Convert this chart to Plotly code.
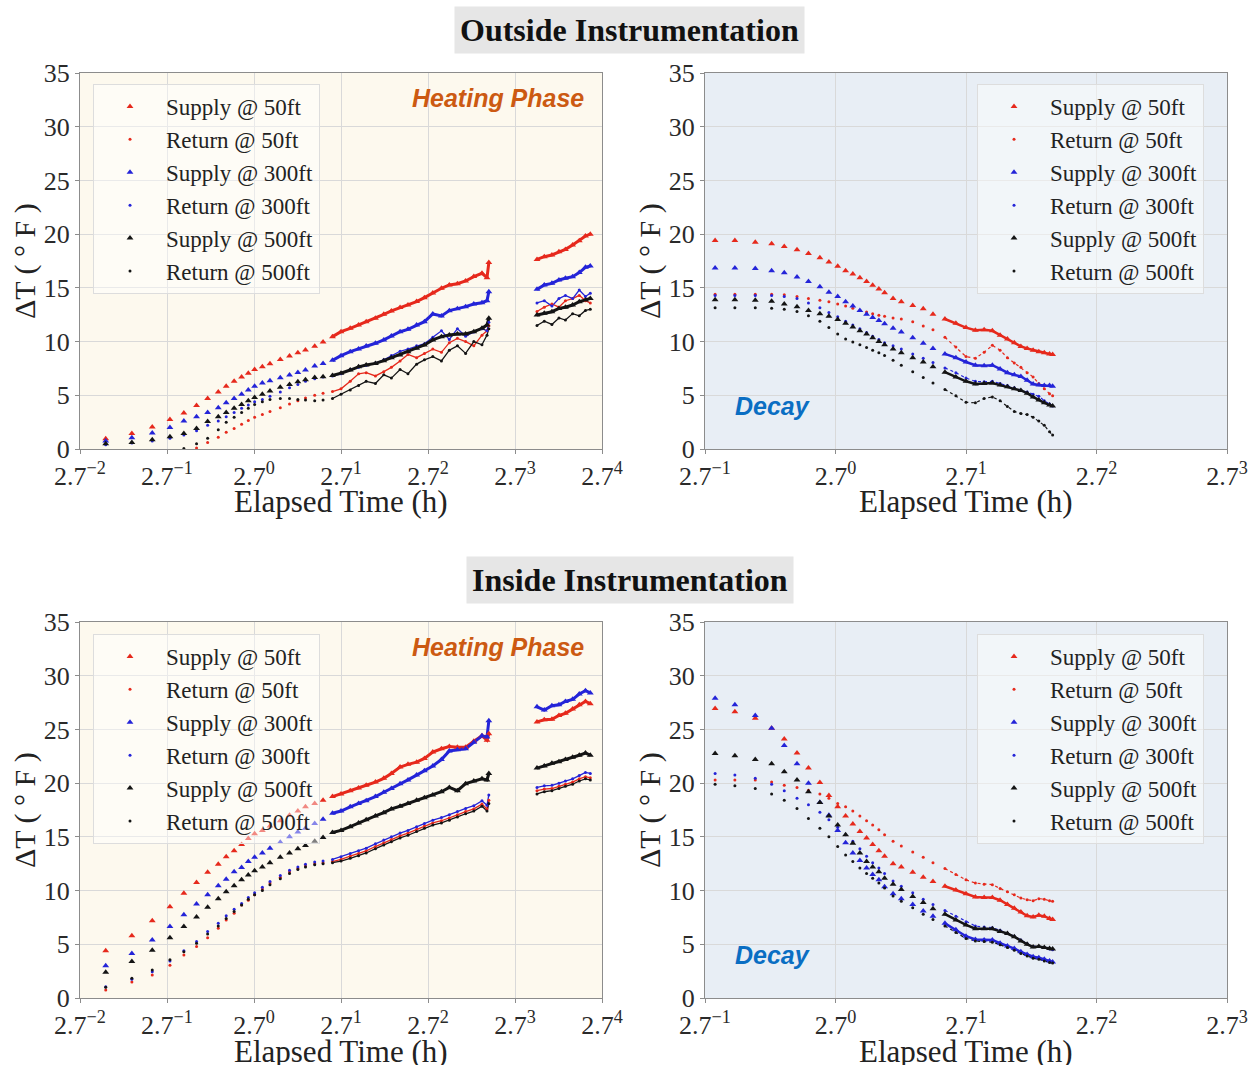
import math
import plotly.graph_objects as go

W, H = 1256, 1065

# ---------------- data ----------------
series_names = ["Supply @ 50ft", "Return @ 50ft", "Supply @ 300ft",
                "Return @ 300ft", "Supply @ 500ft", "Return @ 500ft"]

# elapsed time (h) of the heating-phase samples
t_heat = [0.184, 0.248, 0.313, 0.383, 0.449, 0.519, 0.589, 0.665, 0.728, 0.797, 0.868, 0.937, 1.007,
          1.1, 1.2, 1.35, 1.5, 1.65, 1.8, 2.0, 2.2, 2.45, 2.7,
          3.0, 3.3, 3.6, 4.0, 4.4, 4.8, 5.3, 5.8, 6.4, 7.0,
          7.7, 8.5, 9.3, 10.2, 11.2, 12.3, 13.5, 14.3, 14.6,
          25.3, 27.5, 30.0, 32.5, 35.0, 38.0, 41.0, 44.0, 46.5]

# elapsed time (h) of the decay samples
t_decay = [0.400, 0.465, 0.543, 0.615, 0.677, 0.746, 0.814, 0.888, 0.951, 1.017, 1.080, 1.141,
           1.204, 1.267, 1.327, 1.391, 1.453,
           1.55, 1.65, 1.8, 1.95, 2.1, 2.3, 2.5, 2.7, 2.9, 3.1, 3.3, 3.5, 3.7, 3.9, 4.1,
           4.3, 4.5, 4.7, 4.9, 5.1, 5.22]

# ---- Outside instrumentation, heating phase (dT, F)
out_heat_s50 = [0.95, 1.45, 2.05, 2.75, 3.35, 4.05, 4.7, 5.3, 5.85, 6.3, 6.7, 7.05, 7.4,
                7.66, 7.94, 8.32, 8.66, 8.97, 9.22, 9.56, 9.96, 10.46, 10.92,
                11.23, 11.54, 11.85, 12.16, 12.54, 12.85, 13.16, 13.40, 13.72, 14.09,
                14.52, 14.96, 15.27, 15.39, 15.64, 16.05, 16.36, 15.95, 17.35,
                17.65, 17.9, 18.06, 18.37, 18.58, 18.99, 19.39, 19.83, 20.0]
out_heat_r50 = [None, None, None, None, None, 0.1, 0.6, 1.1, 1.55, 1.9, 2.3, 2.65, 2.95,
                3.2, 3.5, 3.85, 4.2, 4.5, 4.75, 5.0, 5.2, 5.35, 5.6,
                6.3, 7.0, 7.1, 6.8, 7.2, 7.6, 8.2, 8.8, 8.5, 8.9,
                9.3, 9.0, 9.9, 10.3, 10.0, 9.6, 10.6, 11.0, 11.5,
                12.8, 13.2, 13.5, 13.2, 13.8, 14.0, 14.3, 13.8, 13.6]
out_heat_s300 = [0.75, 1.05, 1.5, 2.0, 2.6, 3.0, 3.4, 3.85, 4.3, 4.7, 5.1, 5.5, 5.85,
                 6.14, 6.36, 6.64, 6.89, 7.11, 7.35, 7.73, 7.97, 8.25, 8.69,
                 9.06, 9.31, 9.59, 9.84, 10.15, 10.52, 10.92, 11.14, 11.54, 11.85,
                 12.57, 12.38, 12.88, 13.06, 13.25, 13.50, 13.62, 13.81, 14.64,
                 14.86, 15.27, 15.42, 15.73, 15.89, 16.04, 16.42, 16.91, 17.03]
out_heat_r300 = [0.4, 0.55, 0.75, 1.0, 1.3, 1.7, 2.2, 2.6, 3.0, 3.4, 3.8, 4.1, 4.4,
                 4.6, 4.9, 5.3, 5.7, 6.0, 6.3, 6.55, 6.7, 6.8, 7.0,
                 7.4, 7.6, 7.8, 8.0, 8.3, 8.7, 9.1, 9.3, 9.6, 9.8,
                 10.4, 11.0, 10.2, 11.2, 10.5, 10.9, 11.2, 11.0, 11.8,
                 13.6, 13.8, 13.3, 14.0, 14.3, 14.0, 14.8, 14.2, 14.5]
out_heat_s500 = [0.5, 0.6, 0.85, 1.15, 1.45, 1.9, 2.55, 3.0, 3.4, 3.8, 4.15, 4.5, 4.8,
                 5.1, 5.4, 5.75, 6.0, 6.25, 6.45, 6.65, 6.73, 6.85, 7.05,
                 7.35, 7.65, 7.82, 7.97, 8.22, 8.50, 8.75, 9.06, 9.37, 9.68,
                 10.15, 10.46, 10.61, 10.71, 10.71, 10.92, 11.23, 11.54, 12.16,
                 12.47, 12.63, 12.78, 13.09, 13.19, 13.40, 13.71, 13.87, 14.02]
out_heat_r500 = [None, None, None, None, 0.05, 0.5, 1.0, 1.8, 2.5, 2.95, 3.4, 3.8, 4.15,
                 4.4, 4.6, 4.7, 4.7, 4.6, 4.55, 4.5, 4.55, 4.7, 5.1,
                 5.5, 5.9, 6.3, 6.1, 6.9, 6.6, 7.4, 7.0, 7.9, 8.3,
                 8.6, 8.2, 9.2, 9.6, 8.9, 10.0, 9.7, 10.6, 11.2,
                 11.5, 11.9, 11.6, 12.2, 12.0, 12.6, 12.4, 12.9, 13.0]

# ---- Outside instrumentation, decay
out_decay_s50 = [19.4, 19.4, 19.25, 19.1, 18.85, 18.55, 18.2, 17.8, 17.4, 17.0, 16.6, 16.3,
                 15.95, 15.6, 15.25, 14.9, 14.55,
                 14.0, 13.7, 13.35, 13.05, 12.55, 12.1, 11.7, 11.3, 11.05, 11.1, 11.0, 10.6,
                 10.25, 9.9, 9.55, 9.35, 9.2, 9.05, 8.95, 8.85, 8.8]
out_decay_r50 = [14.4, 14.4, 14.4, 14.4, 14.35, 14.2, 14.0, 13.85, 13.7, 13.5, 13.3, 13.1,
                 12.9, 12.75, 12.6, 12.45, 12.35,
                 12.2, 12.1, 11.85, 11.45, 11.1, 10.4, 9.5, 8.6, 8.45, 9.0, 9.65, 9.2,
                 8.5, 8.0, 7.6, 7.1, 6.7, 6.1, 5.6, 5.15, 4.95]
out_decay_s300 = [16.85, 16.85, 16.8, 16.6, 16.4, 16.0, 15.6, 15.1, 14.6, 14.2, 13.7, 13.3,
                  12.9, 12.55, 12.25, 11.95, 11.65,
                  11.25, 10.9, 10.35, 9.85, 9.35, 8.85, 8.5, 8.1, 7.8, 7.75, 7.8, 7.45,
                  7.1, 6.9, 6.75, 6.4, 6.05, 5.95, 5.9, 5.9, 5.85]
out_decay_r300 = [14.3, 14.3, 14.3, 14.3, 14.2, 14.0, 13.6, 13.15, 12.7, 12.3, 11.9, 11.55,
                  11.2, 10.85, 10.5, 10.2, 9.9,
                  9.6, 9.3, 8.85, 8.45, 8.05, 7.55, 7.1, 6.6, 6.3, 6.25, 6.3, 6.1,
                  5.9, 5.7, 5.5, 5.3, 5.1, 4.9, 4.5, 4.2, 4.0]
out_decay_s500 = [13.9, 13.9, 13.85, 13.75, 13.5, 13.25, 12.9, 12.6, 12.35, 12.05, 11.7, 11.35,
                  11.0, 10.7, 10.35, 10.0, 9.7,
                  9.3, 8.95, 8.5, 8.1, 7.65, 7.15, 6.7, 6.3, 6.05, 6.1, 6.15, 5.95,
                  5.8, 5.6, 5.45, 5.2, 4.85, 4.55, 4.3, 4.1, 4.0]
out_decay_r500 = [13.15, 13.15, 13.15, 13.1, 13.0, 12.8, 12.4, 11.9, 11.3, 10.7, 10.25, 9.95,
                  9.7, 9.45, 9.2, 8.95, 8.7,
                  8.25, 7.8, 7.2, 6.65, 6.15, 5.55, 4.95, 4.35, 4.3, 4.7, 4.85, 4.5,
                  3.95, 3.5, 3.3, 3.2, 2.95, 2.6, 2.2, 1.6, 1.3]

# ---- Inside instrumentation, heating phase
in_heat_s50 = [4.4, 5.8, 7.2, 8.5, 9.75, 10.75, 11.7, 12.45, 13.15, 13.7, 14.3, 14.85, 15.3,
               15.6, 16.0, 16.5, 17.0, 17.4, 17.8, 18.1, 18.4, 18.75, 19.0,
               19.3, 19.55, 19.8, 20.1, 20.45, 20.9, 21.5, 21.75, 21.95, 22.3,
               22.9, 23.2, 23.4, 23.35, 23.35, 23.9, 24.4, 24.0, 24.6,
               25.7, 25.9, 25.95, 26.3, 26.5, 26.9, 27.3, 27.6, 27.4]
in_heat_r50 = [0.75, 1.5, 2.15, 3.05, 4.0, 4.8, 5.6, 6.5, 7.25, 7.9, 8.65, 9.1, 9.6,
               10.15, 10.7, 11.25, 11.75, 12.05, 12.3, 12.5, 12.6, 12.7, 12.9,
               13.2, 13.45, 13.7, 14.1, 14.45, 14.75, 15.1, 15.35, 15.7, 16.0,
               16.3, 16.5, 16.75, 17.05, 17.35, 17.6, 18.05, 17.6, 18.4,
               19.3, 19.45, 19.5, 19.7, 19.9, 20.1, 20.4, 20.6, 20.5]
in_heat_s300 = [3.0, 4.15, 5.4, 6.65, 7.75, 8.75, 9.6, 10.45, 11.05, 11.75, 12.15, 12.7, 13.1,
                13.5, 13.95, 14.5, 15.0, 15.45, 15.8, 16.25, 16.65, 17.2, 17.4,
                17.8, 18.1, 18.35, 18.75, 19.15, 19.5, 19.95, 20.3, 20.75, 21.15,
                21.6, 22.2, 23.0, 23.1, 23.2, 23.8, 24.4, 24.3, 25.8,
                27.1, 26.8, 27.2, 27.3, 27.6, 27.8, 28.3, 28.6, 28.4]
in_heat_r300 = [1.05, 1.75, 2.45, 3.45, 4.4, 5.25, 6.2, 6.95, 7.65, 8.25, 8.8, 9.35, 9.8,
                10.3, 10.85, 11.4, 11.9, 12.2, 12.45, 12.65, 12.75, 12.9, 13.15,
                13.45, 13.7, 13.95, 14.35, 14.7, 15.0, 15.35, 15.6, 15.95, 16.25,
                16.55, 16.8, 17.05, 17.35, 17.65, 17.9, 18.35, 17.95, 18.9,
                19.6, 19.75, 19.8, 20.0, 20.2, 20.4, 20.7, 21.0, 20.9]
in_heat_s500 = [2.4, 3.4, 4.45, 5.6, 6.65, 7.55, 8.45, 9.25, 9.9, 10.45, 11.0, 11.45, 11.85,
                12.2, 12.6, 13.1, 13.5, 13.9, 14.2, 14.6, 14.95, 15.4, 15.6,
                15.95, 16.3, 16.6, 16.95, 17.25, 17.6, 17.85, 18.1, 18.4, 18.65,
                18.9, 19.2, 19.6, 19.3, 19.95, 20.2, 20.4, 20.3, 20.9,
                21.4, 21.6, 21.85, 22.0, 22.2, 22.4, 22.6, 22.8, 22.6]
in_heat_r500 = [1.0, 1.85, 2.6, 3.55, 4.3, 5.1, 5.95, 6.7, 7.4, 8.05, 8.65, 9.2, 9.6,
                10.0, 10.55, 11.1, 11.6, 11.95, 12.2, 12.4, 12.5, 12.6, 12.75,
                13.0, 13.25, 13.5, 13.9, 14.25, 14.55, 14.9, 15.15, 15.5, 15.8,
                16.1, 16.3, 16.55, 16.85, 17.15, 17.4, 17.85, 17.4, 18.1,
                19.0, 19.2, 19.3, 19.5, 19.7, 19.9, 20.2, 20.4, 20.3]

# ---- Inside instrumentation, decay
in_decay_s50 = [26.95, 26.65, 26.05, 25.1, 24.1, 22.8, 21.4, 20.05, 18.85, 17.8, 16.95, 16.2,
                15.5, 14.9, 14.3, 13.7, 13.2,
                12.5, 12.2, 11.7, 11.25, 10.85, 10.4, 10.05, 9.7, 9.4, 9.35, 9.35, 9.1,
                8.7, 8.35, 8.0, 7.65, 7.55, 7.7, 7.6, 7.4, 7.3]
in_decay_r50 = [20.3, 20.3, 20.3, 20.1, 19.8, 19.6, 19.35, 19.0, 18.6, 18.1, 17.8, 17.4,
                16.95, 16.5, 16.1, 15.65, 15.2,
                14.6, 14.15, 13.6, 13.1, 12.6, 12.05, 11.5, 11.0, 10.7, 10.6, 10.55, 10.2,
                9.9, 9.6, 9.3, 9.15, 9.05, 9.25, 9.2, 9.05, 9.0]
in_decay_s300 = [27.9, 27.3, 26.3, 25.1, 23.5, 21.8, 20.0, 18.2, 17.0, 15.6, 14.45, 13.5,
                 12.8, 12.1, 11.5, 11.0, 10.35,
                 9.7, 9.25, 8.7, 8.1, 7.6, 6.95, 6.35, 5.75, 5.45, 5.4, 5.4, 5.1,
                 4.85, 4.6, 4.3, 4.05, 3.85, 3.75, 3.6, 3.45, 3.35]
in_decay_r300 = [20.9, 20.75, 20.45, 19.9, 19.3, 18.6, 18.0, 17.3, 16.6, 15.9, 15.2, 14.6,
                 13.9, 13.2, 12.6, 12.1, 11.6,
                 10.9, 10.4, 9.8, 9.2, 8.7, 8.15, 7.6, 7.1, 6.7, 6.6, 6.55, 6.3,
                 6.0, 5.75, 5.4, 5.05, 4.8, 4.8, 4.7, 4.55, 4.5]
in_decay_s500 = [22.75, 22.55, 22.2, 21.8, 21.05, 20.3, 19.2, 18.2, 16.95, 16.1, 15.2, 14.4,
                 13.5, 12.7, 12.2, 11.75, 11.15,
                 10.6, 10.1, 9.45, 8.9, 8.3, 7.8, 7.25, 6.8, 6.45, 6.45, 6.45, 6.2,
                 6.0, 5.7, 5.3, 5.0, 4.75, 4.8, 4.7, 4.6, 4.55]
in_decay_r500 = [19.9, 19.75, 19.5, 19.0, 18.4, 17.65, 16.7, 15.8, 15.0, 14.1, 13.3, 12.7,
                 12.1, 11.6, 11.15, 10.7, 10.25,
                 9.5, 9.0, 8.4, 7.8, 7.3, 6.7, 6.1, 5.55, 5.3, 5.25, 5.2, 4.95,
                 4.7, 4.45, 4.15, 3.9, 3.7, 3.6, 3.45, 3.3, 3.25]

y_ticks = [0, 5, 10, 15, 20, 25, 30, 35]

# ---------------- styling ----------------
RED, BLUE, BLACK = "#e6291c", "#2424d8", "#141414"
colors = [RED, RED, BLUE, BLUE, BLACK, BLACK]
symbols = ["triangle-up", "circle", "triangle-up", "circle", "triangle-up", "circle"]
msizes = [6, 3, 6, 3, 6, 3]
SERIF = "Liberation Serif, Times New Roman, serif"
SANS = "Liberation Sans, Arial, sans-serif"
CREAM = "#fdf9ee"
BLUEBG = "#e8eef5"
GRID = "#d9d9d9"
SPINE = "#8c8c8c"

panels = [
    dict(ax="", t=t_heat, ys=[out_heat_s50, out_heat_r50, out_heat_s300, out_heat_r300, out_heat_s500, out_heat_r500],
         px=(80, 602), py=(73, 449), e=(-2, 4), bg=CREAM, legend="legend", lpos=(93, 84), line_from=2.45, decay=False),
    dict(ax="2", t=t_decay, ys=[out_decay_s50, out_decay_r50, out_decay_s300, out_decay_r300, out_decay_s500, out_decay_r500],
         px=(705, 1227), py=(73, 449), e=(-1, 3), bg=BLUEBG, legend="legend2", lpos=(977, 84), line_from=2.3, decay=True),
    dict(ax="3", t=t_heat, ys=[in_heat_s50, in_heat_r50, in_heat_s300, in_heat_r300, in_heat_s500, in_heat_r500],
         px=(80, 602), py=(622, 998), e=(-2, 4), bg=CREAM, legend="legend3", lpos=(93, 634), line_from=2.45, decay=False),
    dict(ax="4", t=t_decay, ys=[in_decay_s50, in_decay_r50, in_decay_s300, in_decay_r300, in_decay_s500, in_decay_r500],
         px=(705, 1227), py=(622, 998), e=(-1, 3), bg=BLUEBG, legend="legend4", lpos=(977, 634), line_from=2.3, decay=True),
]

fig = go.Figure()
layout = dict(width=W, height=H, margin=dict(l=0, r=0, t=0, b=0, pad=0, autoexpand=False),
              paper_bgcolor="white", plot_bgcolor="rgba(0,0,0,0)", showlegend=True)
shapes, annotations = [], []
lb = math.log10(2.7)


def segments(t, y, t_from):
    segs, cur = [], []
    for ti, yi in zip(t, y):
        if ti < t_from:
            continue
        if cur and ti / cur[-1][0] > 1.5:
            segs.append(cur)
            cur = []
        cur.append((ti, yi))
    if cur:
        segs.append(cur)
    xs, ys = [], []
    for s in segs:
        xs += [q[0] for q in s] + [None]
        ys += [q[1] for q in s] + [None]
    return xs, ys


for p in panels:
    xa = "x" + p["ax"]
    ya = "y" + p["ax"]
    e0, e1 = p["e"]
    layout["xaxis" + p["ax"]] = dict(
        domain=[p["px"][0] / W, p["px"][1] / W], anchor=ya, type="log", automargin=False,
        range=[e0 * lb, e1 * lb],
        tickvals=[2.7 ** k for k in range(e0, e1 + 1)],
        ticktext=["2.7<sup>%s</sup>" % str(k).replace("-", "\u2212") for k in range(e0, e1 + 1)],
        showgrid=True, gridcolor=GRID, gridwidth=1, showline=True, mirror=True,
        linecolor=SPINE, linewidth=1, ticks="outside", ticklen=4, tickcolor=SPINE,
        tickfont=dict(family=SERIF, size=26, color="#2a2a2a"), zeroline=False)
    layout["yaxis" + p["ax"]] = dict(
        domain=[1 - p["py"][1] / H, 1 - p["py"][0] / H], anchor=xa, automargin=False,
        range=[0, 35], tickvals=y_ticks, ticktext=[str(v) for v in y_ticks],
        showgrid=True, gridcolor=GRID, gridwidth=1, showline=True, mirror=True,
        linecolor=SPINE, linewidth=1, ticks="outside", ticklen=4, tickcolor=SPINE,
        tickfont=dict(family=SERIF, size=26, color="#2a2a2a"), zeroline=False)
    shapes.append(dict(type="rect", xref=xa + " domain", yref=ya + " domain", x0=0, x1=1, y0=0, y1=1,
                       fillcolor=p["bg"], line=dict(width=0), layer="below"))
    layout[p["legend"]] = dict(
        x=p["lpos"][0] / W, y=1 - p["lpos"][1] / H, xanchor="left", yanchor="top",
        bgcolor="rgba(255,255,255,0.45)", bordercolor="#dddddd", borderwidth=1,
        font=dict(family=SERIF, size=23, color="#222222"), itemwidth=62,
        tracegroupgap=4, traceorder="normal")
    # dense tail drawn as a band through the read points
    for i, y in enumerate(p["ys"]):
        xs, ys = segments(p["t"], y, p["line_from"])
        supply = (i % 2 == 0)
        if p["decay"]:
            lw = 2.5 if supply else 1.2
        else:
            lw = 3 if supply else 1.3
        fig.add_trace(go.Scatter(
            x=xs, y=ys, xaxis=xa, yaxis=ya, mode="lines", showlegend=False, hoverinfo="skip",
            line=dict(color=colors[i], width=lw,
                      dash="solid" if (supply or not p["decay"]) else "dot"),
            legend=p["legend"]))
    for i, y in enumerate(p["ys"]):
        fig.add_trace(go.Scatter(
            x=p["t"], y=y, xaxis=xa, yaxis=ya, mode="markers", name=series_names[i],
            marker=dict(symbol=symbols[i], size=msizes[i], color=colors[i], line=dict(width=0)),
            legend=p["legend"], legendgroup=p["legend"] + str(i)))
    # axis titles
    xc = (p["px"][0] + p["px"][1]) / 2
    annotations.append(dict(text="Elapsed Time (h)", x=xc / W, y=1 - (p["py"][1] + 53) / H,
                            xref="paper", yref="paper", showarrow=False, xanchor="center", yanchor="middle",
                            font=dict(family=SERIF, size=31, color="#222222")))
    annotations.append(dict(text="\u0394T ( \u00b0 F )", x=(p["px"][0] - 55) / W,
                            y=1 - ((p["py"][0] + p["py"][1]) / 2) / H,
                            xref="paper", yref="paper", showarrow=False, textangle=-90,
                            xanchor="center", yanchor="middle",
                            font=dict(family=SERIF, size=30, color="#222222")))
    if p["decay"]:
        annotations.append(dict(text="<b><i>Decay</i></b>", x=772 / W, y=1 - (p["py"][0] + 333) / H,
                                xref="paper", yref="paper", showarrow=False, xanchor="center", yanchor="middle",
                                font=dict(family=SANS, size=25, color="#0a6ec3")))
    else:
        annotations.append(dict(text="<b><i>Heating Phase</i></b>", x=498 / W, y=1 - (p["py"][0] + 25) / H,
                                xref="paper", yref="paper", showarrow=False, xanchor="center", yanchor="middle",
                                font=dict(family=SANS, size=25, color="#cc5a12")))

annotations.append(dict(text="<b>Outside Instrumentation</b>", x=629.5 / W, y=1 - 29.5 / H,
                        xref="paper", yref="paper", showarrow=False, xanchor="center", yanchor="middle",
                        font=dict(family=SERIF, size=32, color="#111111"), bgcolor="#e6e6e6", borderpad=5))
annotations.append(dict(text="<b>Inside Instrumentation</b>", x=630 / W, y=1 - 579.5 / H,
                        xref="paper", yref="paper", showarrow=False, xanchor="center", yanchor="middle",
                        font=dict(family=SERIF, size=32, color="#111111"), bgcolor="#e6e6e6", borderpad=5))

layout["shapes"] = shapes
layout["annotations"] = annotations
fig.update_layout(**layout)
fig.write_html("out.html")
